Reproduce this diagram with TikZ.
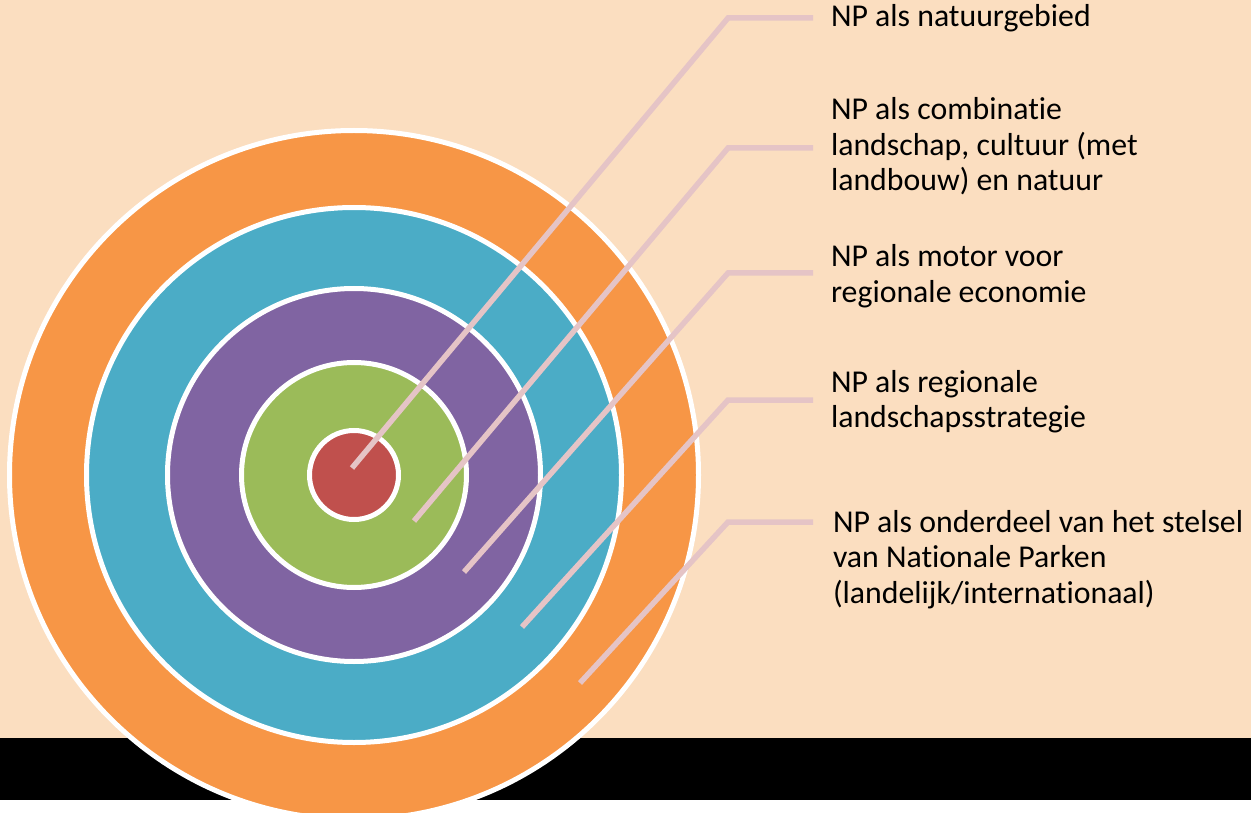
\documentclass[tikz,border=0pt]{standalone}
\usepackage{fontspec}
\setmainfont{Carlito}[Ligatures=NoCommon]
\definecolor{bgpeach}{HTML}{FBDEC0}
\definecolor{ringorange}{HTML}{F79646}
\definecolor{ringblue}{HTML}{4BACC6}
\definecolor{ringpurple}{HTML}{8064A2}
\definecolor{ringgreen}{HTML}{9BBB59}
\definecolor{ringred}{HTML}{C0504D}
\definecolor{leadpink}{HTML}{E5C4C6}
\begin{document}
\begin{tikzpicture}[x=1pt,y=-1pt,
  ring/.style={circle,draw=white,line width=5pt,inner sep=0pt,outer sep=0pt},
  lead/.style={draw=leadpink,line width=5.5pt},
  lbl/.style={anchor=base west,inner sep=0pt,outer sep=0pt,font=\fontsize{31.8}{35.5}\selectfont}]
\useasboundingbox (0,0) rectangle (1251,813);
\clip (0,0) rectangle (1251,813);
\fill[white] (0,0) rectangle (1251,813);
\fill[bgpeach] (0,0) rectangle (1251,738);
\fill[black] (0,738) rectangle (1251,799.5);
\coordinate (ctr) at (354,475);
\node[ring,fill=ringorange,minimum size=689pt] (c5) at (ctr) {};
\node[ring,fill=ringblue,minimum size=535pt] (c4) at (ctr) {};
\node[ring,fill=ringpurple,minimum size=373pt] (c3) at (ctr) {};
\node[ring,fill=ringgreen,minimum size=225pt] (c2) at (ctr) {};
\node[ring,fill=ringred,minimum size=89pt] (c1) at (ctr) {};
% labels
\node[lbl] (t1) at (831,27) {\begin{tabular}[t]{@{}l@{}}NP als natuurgebied\end{tabular}};
\node[lbl] (t2) at (831,120) {\begin{tabular}[t]{@{}l@{}}NP als combinatie\\landschap, cultuur (met\\landbouw) en natuur\end{tabular}};
\node[lbl] (t3) at (831,267) {\begin{tabular}[t]{@{}l@{}}NP als motor voor\\regionale economie\end{tabular}};
\node[lbl] (t4) at (831,392) {\begin{tabular}[t]{@{}l@{}}NP als regionale\\landschapsstrategie\end{tabular}};
\node[lbl] (t5) at (833,532) {\begin{tabular}[t]{@{}l@{}}NP als onderdeel van het stelsel\\van Nationale Parken\\(landelijk/internationaal)\end{tabular}};
% leader points
\coordinate (s1) at (352,468); \coordinate (k1) at (728,18);  \coordinate (h1) at (813,18);
\coordinate (s2) at (414,521); \coordinate (k2) at (728,148); \coordinate (h2) at (813,148);
\coordinate (s3) at (464,572); \coordinate (k3) at (728,273); \coordinate (h3) at (813,273);
\coordinate (s4) at (522,627); \coordinate (k4) at (728,400); \coordinate (h4) at (813,400);
\coordinate (s5) at (580,683); \coordinate (k5) at (728,522); \coordinate (h5) at (813,522);
\foreach \i in {1,...,5} \draw[lead] (s\i) -- (k\i) -- (h\i);
\end{tikzpicture}
\end{document}
